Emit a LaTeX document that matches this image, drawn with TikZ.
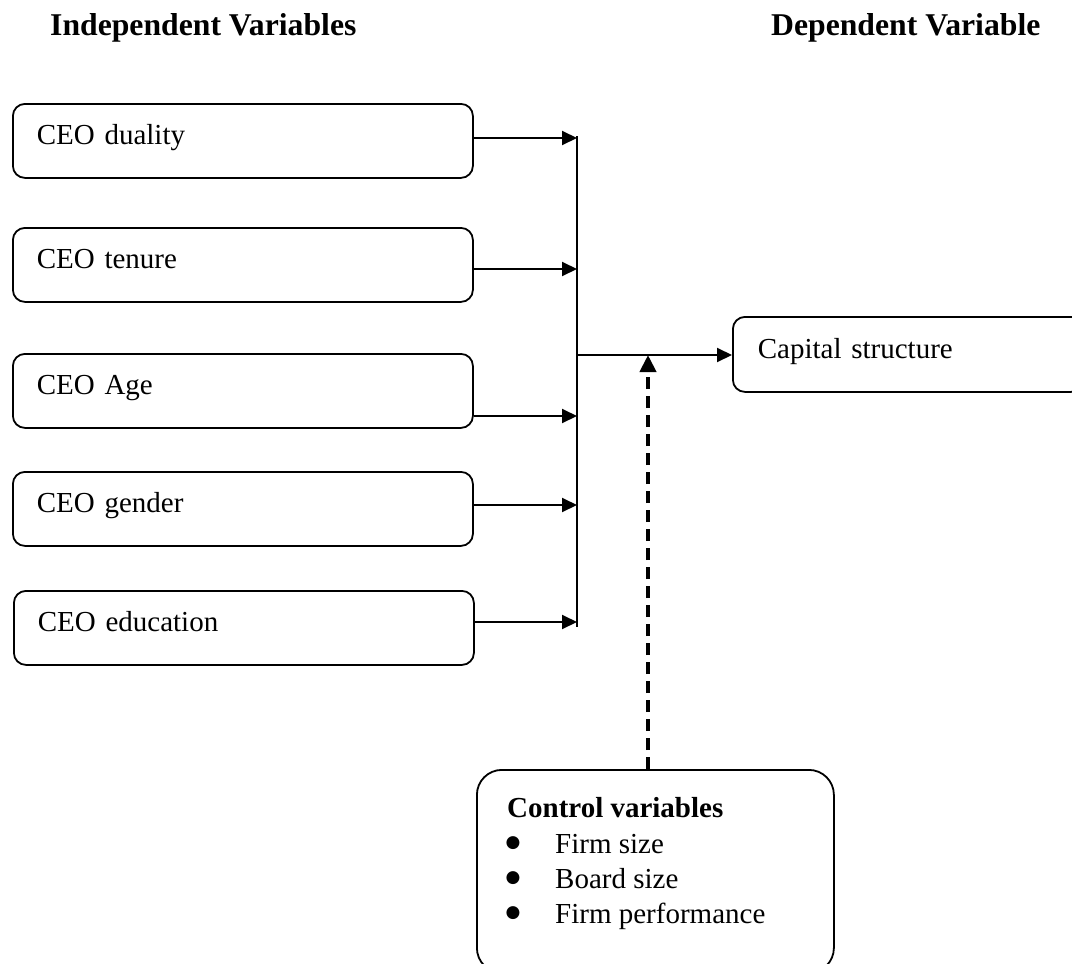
\documentclass[tikz,border=0pt]{standalone}
\usepackage{fontspec}
\setmainfont{Liberation Serif}
\newfontfamily\djv{DejaVu Sans}
\usetikzlibrary{arrows.meta}
\begin{document}
\begin{tikzpicture}[x=1pt,y=-1pt,
  txt/.style={font=\fontsize{29}{35}\selectfont},
  ttl/.style={font=\fontsize{31.7}{38}\selectfont\bfseries, anchor=base west, inner sep=0pt},
  ivbox/.style={draw, line width=1.8pt, rounded corners=12pt, anchor=north west,
    minimum width=460pt, minimum height=74pt, text width=412pt, align=left,
    inner xsep=24pt, inner ysep=0pt, text height=20pt, text depth=12pt, txt},
  capbox/.style={draw, line width=1.8pt, rounded corners=12pt, anchor=north west,
    minimum width=350pt, minimum height=75pt, text width=300pt, align=left,
    inner xsep=25pt, inner ysep=0pt, text height=20pt, text depth=12pt, txt},
  ctrlbox/.style={draw, line width=1.8pt, rounded corners=25pt, anchor=north west,
    minimum width=357pt, minimum height=203pt, inner sep=0pt},
  item/.style={txt, anchor=base west, inner sep=0pt},
  bul/.style={font=\djv\fontsize{17}{18}\selectfont, anchor=base, inner sep=0pt, yshift=5.5pt},
  arr/.style={line width=2pt, -{Triangle[length=15pt,width=14pt]}},
  bus/.style={line width=1.5pt},
  dasharr/.style={line width=4pt, dash pattern=on 12pt off 7pt, -{Triangle[length=17pt,width=16pt]}}
]
\clip (0,0) rectangle (1072,964);
\fill[white] (0,0) rectangle (1072,964);

% titles
\node[ttl] (tind) at (50,35) {Independent Variables};
\node[ttl] (tdep) at (771,35) {Dependent Variable};

% independent variable boxes
\node[ivbox] (b1) at (12,103) {CEO duality};
\node[ivbox] (b2) at (12,227) {CEO tenure};
\node[ivbox] (b3) at (12,353) {CEO Age};
\node[ivbox] (b4) at (12,471) {CEO gender};
\node[ivbox] (b5) at (13,590) {CEO education};

% dependent variable box
\node[capbox] (cap) at (732,316) {Capital structure};

% control box
\node[ctrlbox] (ctrl) at (476,769) {};
\node[item, font=\fontsize{29}{35}\selectfont\bfseries] (ctitle) at (507,817) {Control variables};
\node[bul] (u1) at (513,853) {●};
\node[item] (i1) at (555,853) {Firm size};
\node[bul] (u2) at (513,888) {●};
\node[item] (i2) at (555,888) {Board size};
\node[bul] (u3) at (513,923) {●};
\node[item] (i3) at (555,923) {Firm performance};

% bus coordinates
\coordinate (t1) at (577,138);
\coordinate (t2) at (577,269);
\coordinate (t3) at (577,416);
\coordinate (t4) at (577,505);
\coordinate (t5) at (577,622);
\coordinate (jn) at (577,355);
\coordinate (cj) at (648,355);

\draw[bus] ([yshift=2pt]t1) -- ([yshift=-5pt]t5);
\draw[arr] (b1.east |- t1) -- (t1);
\draw[arr] (b2.east |- t2) -- (t2);
\draw[arr] (b3.east |- t3) -- (t3);
\draw[arr] (b4.east |- t4) -- (t4);
\draw[arr] (b5.east |- t5) -- (t5);
\draw[arr] (jn) -- (cap.west |- jn);
\draw[dasharr] (ctrl.north -| cj) -- (cj);
\end{tikzpicture}
\end{document}
